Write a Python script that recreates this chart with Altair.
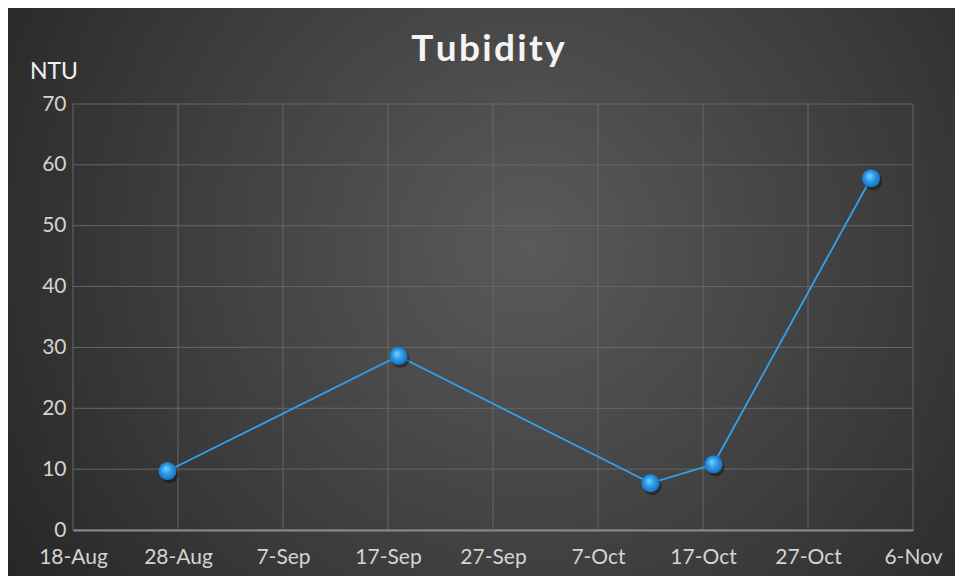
import altair as alt
import pandas as pd

# ---- data ----
dates = ["2019-08-27", "2019-09-18", "2019-10-12", "2019-10-18", "2019-11-02"]
ntu = [9.7, 28.6, 7.7, 10.8, 57.8]

x_ticks = ["2019-08-18", "2019-08-28", "2019-09-07", "2019-09-17", "2019-09-27",
           "2019-10-07", "2019-10-17", "2019-10-27", "2019-11-06"]
y_ticks = [0, 10, 20, 30, 40, 50, 60, 70]

title_text = "Tubidity"
y_title = "NTU"

W, H = 840, 426
PL, PT, PR, PB = 65, 96, 42, 46

df = pd.DataFrame({"date": pd.to_datetime(dates), "ntu": ntu})
xt = pd.DataFrame({"date": pd.to_datetime(x_ticks)})
yt = pd.DataFrame({"v": y_ticks})

FONT = "Lato"
xscale = alt.Scale(domain=[pd.Timestamp(x_ticks[0]).isoformat(), pd.Timestamp(x_ticks[-1]).isoformat()])
yscale = alt.Scale(domain=[0, 70], nice=False)

xaxis = alt.Axis(values=[pd.Timestamp(d).isoformat() for d in x_ticks], format="%-d-%b",
                 title=None, grid=False, ticks=False, domain=True, domainColor="#8a8a8a",
                 domainWidth=2, labelColor="#d4d4d4", labelFont=FONT, labelFontSize=21,
                 labelPadding=16, labelOverlap=False, labelFlush=False, zindex=2)
yaxis = alt.Axis(values=y_ticks, title=None, grid=False, ticks=False, domain=False,
                 labelColor="#d4d4d4", labelFont=FONT, labelFontSize=21,
                 labelPadding=7, labelFlush=False, zindex=2)

bg = alt.Chart(alt.Data(values=[{}])).mark_rect(
    fill=alt.RadialGradient(
        gradient="radial", x1=0.55, y1=0.45, r1=0, x2=0.55, y2=0.45, r2=0.75,
        stops=[alt.GradientStop(offset=0, color="#5a5a5a"),
               alt.GradientStop(offset=0.55, color="#3a3a3a"),
               alt.GradientStop(offset=1, color="#1e1e1e")])
).encode(x=alt.value(-PL - 2), x2=alt.value(W + PR), y=alt.value(-PT), y2=alt.value(H + PB))

vgrid = alt.Chart(xt).mark_rule(color="#666666", strokeWidth=1).encode(
    x=alt.X("date:T", scale=xscale, axis=xaxis))
hgrid = alt.Chart(yt).mark_rule(color="#666666", strokeWidth=1).encode(
    y=alt.Y("v:Q", scale=yscale, axis=yaxis))

line = alt.Chart(df).mark_line(color="#2fa3ee", strokeWidth=1.8).encode(
    x=alt.X("date:T", scale=xscale, axis=xaxis),
    y=alt.Y("ntu:Q", scale=yscale, axis=yaxis))

shadow = alt.Chart(df).mark_point(filled=True, size=330, color="#000000", opacity=0.35).encode(
    x=alt.X("date:T", scale=xscale), y=alt.Y("ntu:Q", scale=yscale),
    xOffset=alt.value(2), yOffset=alt.value(3))

pts = alt.Chart(df).mark_point(
    filled=True, size=330, opacity=1, strokeWidth=0,
    fill=alt.RadialGradient(
        gradient="radial", x1=0.4, y1=0.35, r1=0, x2=0.5, y2=0.5, r2=0.55,
        stops=[alt.GradientStop(offset=0, color="#7fd0ff"),
               alt.GradientStop(offset=0.5, color="#2a9bea"),
               alt.GradientStop(offset=1, color="#1769b5")])
).encode(x=alt.X("date:T", scale=xscale), y=alt.Y("ntu:Q", scale=yscale))

spaced_title = "\u200a".join(title_text)
title = alt.Chart(alt.Data(values=[{}])).mark_text(
    text=spaced_title, font=FONT, fontSize=37, fontWeight="bold", color="#f4f4f4",
    align="center", baseline="alphabetic"
).encode(x=alt.value(415), y=alt.value(-43))
ytitle = alt.Chart(alt.Data(values=[{}])).mark_text(
    text=y_title, font=FONT, fontSize=23, color="#f0f0f0", align="center", baseline="middle"
).encode(x=alt.value(-19), y=alt.value(-32))

chart = alt.layer(bg, vgrid, hgrid, line, shadow, pts, title, ytitle).properties(
    width=W, height=H,
    padding={"left": PL, "top": PT, "right": PR, "bottom": PB},
    autosize=alt.AutoSizeParams(type="none"),
    background="#e8e8e8",
).configure_view(stroke=None)

chart.save("out.html", embed_options={"renderer": "svg", "actions": False})
